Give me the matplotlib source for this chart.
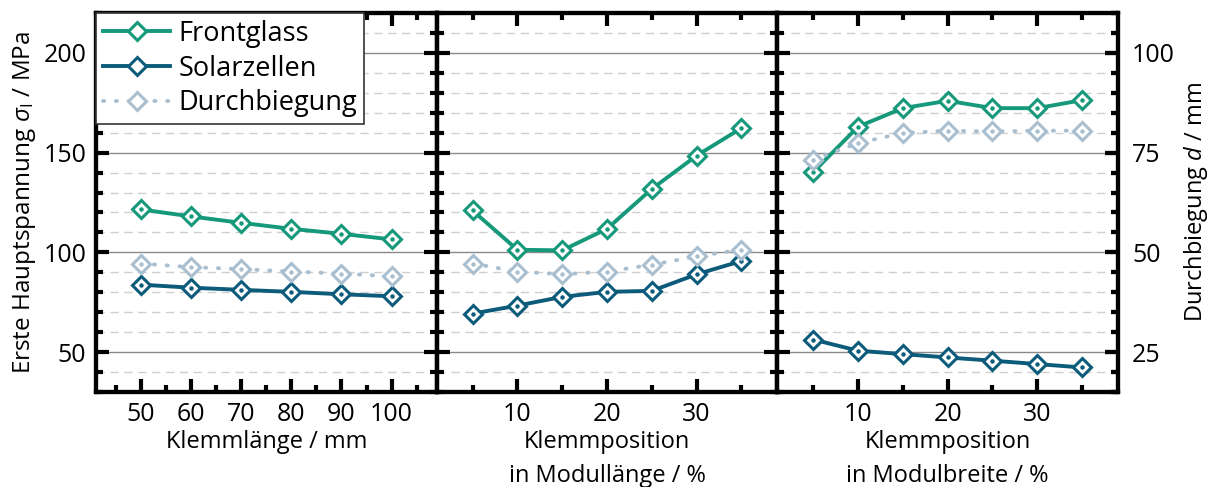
import numpy as np
import matplotlib.pyplot as plt
from matplotlib.ticker import MultipleLocator
from matplotlib.lines import Line2D

plt.rcParams['font.family'] = ['Open Sans', 'DejaVu Sans']
plt.rcParams['mathtext.fontset'] = 'custom'
plt.rcParams['mathtext.rm'] = 'Open Sans'
plt.rcParams['mathtext.it'] = 'Open Sans:italic'

# Messwerte
klemmlaenge = [50, 60, 70, 80, 90, 100]
fg_laenge = [121.5, 118.0, 114.8, 111.8, 109.3, 106.5]
sz_laenge = [83.8, 82.3, 81.2, 80.2, 79.0, 78.0]
db_laenge = [47.2, 46.3, 45.8, 45.2, 44.7, 44.0]

pos_mod_laenge = [5, 10, 15, 20, 25, 30, 35]
fg_pos_l = [121.0, 101.3, 101.0, 111.8, 131.8, 148.5, 162.3]
sz_pos_l = [69.3, 73.3, 77.7, 80.2, 80.7, 89.0, 95.7]
db_pos_l = [47.2, 45.2, 44.5, 45.2, 46.9, 49.0, 50.7]

pos_mod_breite = [5, 10, 15, 20, 25, 30, 35]
fg_pos_b = [140.2, 163.0, 172.3, 176.0, 172.3, 172.3, 176.3]
sz_pos_b = [56.3, 50.7, 49.0, 47.3, 45.7, 44.0, 42.3]
db_pos_b = [73.2, 77.4, 79.9, 80.5, 80.3, 80.5, 80.5]

c_fg = '#15997A'
c_sz = '#0D5B7B'
c_db = '#A9BFD0'
dots = (0, (0.3, 3.0))

fig, axes = plt.subplots(1, 3, figsize=(12.13, 4.87), dpi=100, sharey=True)
fig.subplots_adjust(left=96/1213, right=1118/1213, top=1-13/487, bottom=1-392/487, wspace=0)

panels = [
    (klemmlaenge, fg_laenge, sz_laenge, db_laenge, (41, 109), 10, 'Klemmlänge / mm'),
    (pos_mod_laenge, fg_pos_l, sz_pos_l, db_pos_l, (1, 39), 10, 'Klemmposition\nin Modullänge / %'),
    (pos_mod_breite, fg_pos_b, sz_pos_b, db_pos_b, (1, 39), 10, 'Klemmposition\nin Modulbreite / %'),
]

def serie(ax, x, y, farbe, ls):
    ax.plot(x, y, color=farbe, lw=2.8, ls=ls, dash_capstyle='round', solid_capstyle='round',
            marker='D', ms=9.5, mfc='white', mec=farbe, mew=2.2, zorder=3)
    ax.plot(x, y, ls='none', marker='o', ms=2.2, color=farbe, zorder=4)

twins = []
for i, (ax, (x, fg, sz, db, xl, maj, xlab)) in enumerate(zip(axes, panels)):
    tw = ax.twinx()
    twins.append(tw)
    serie(ax, x, fg, c_fg, '-')
    serie(ax, x, sz, c_sz, '-')
    serie(tw, x, db, c_db, dots)

    ax.set_xlim(*xl)
    ax.set_ylim(30, 220)
    tw.set_ylim(15, 110)
    ax.xaxis.set_major_locator(MultipleLocator(maj))
    ax.xaxis.set_minor_locator(MultipleLocator(5))
    ax.yaxis.set_major_locator(MultipleLocator(50))
    ax.yaxis.set_minor_locator(MultipleLocator(10))
    tw.yaxis.set_major_locator(MultipleLocator(25))
    tw.yaxis.set_minor_locator(MultipleLocator(5))

    ax.grid(True, which='major', axis='y', color='#8a8a8a', lw=1.0, ls='-')
    ax.grid(True, which='minor', axis='y', color='#cfcfcf', lw=1.0, ls=(0, (6, 4)))
    ax.set_axisbelow(True)

    ax.tick_params(which='both', direction='in', top=True, right=True, width=3,
                   labelsize=18, pad=7, labelright=False)
    ax.tick_params(which='major', length=9.5)
    ax.tick_params(which='minor', length=5)
    if i > 0:
        ax.tick_params(labelleft=False)
    if i < 2:
        tw.tick_params(which='both', length=0, labelright=False)
    else:
        tw.tick_params(which='both', direction='in', width=3, labelsize=18, pad=10)
        tw.tick_params(which='major', length=9.5)
        tw.tick_params(which='minor', length=5)
        tw.set_ylabel(r'Durchbiegung $d$ / mm', fontsize=17, labelpad=5)
    for s in list(ax.spines.values()) + list(tw.spines.values()):
        s.set_linewidth(3)
    ax.set_xlabel(xlab, fontsize=17, linespacing=1.6, labelpad=2)

axes[0].set_ylabel(r'Erste Hauptspannung $\sigma_\mathrm{I}$ / MPa', fontsize=17.5, labelpad=4)

handles = [
    Line2D([], [], color=c_fg, lw=2.8, marker='D', ms=9.5, mfc='white', mec=c_fg, mew=2.2),
    Line2D([], [], color=c_sz, lw=2.8, marker='D', ms=9.5, mfc='white', mec=c_sz, mew=2.2),
    Line2D([], [], color=c_db, lw=2.8, ls=dots, dash_capstyle='round',
           marker='D', ms=9.5, mfc='white', mec=c_db, mew=2.2),
]
leg = twins[0].legend(handles, ['Frontglass', 'Solarzellen', 'Durchbiegung'], loc='upper left',
                      bbox_to_anchor=(0, 1), borderaxespad=0, fontsize=19.5, fancybox=False,
                      framealpha=1, edgecolor='#333333', handlelength=2.5, labelspacing=0.25,
                      handletextpad=0.3, borderpad=0.25)
leg.get_frame().set_linewidth(1.2)
leg.set_zorder(10)

fig.savefig('out.png', dpi=100)
